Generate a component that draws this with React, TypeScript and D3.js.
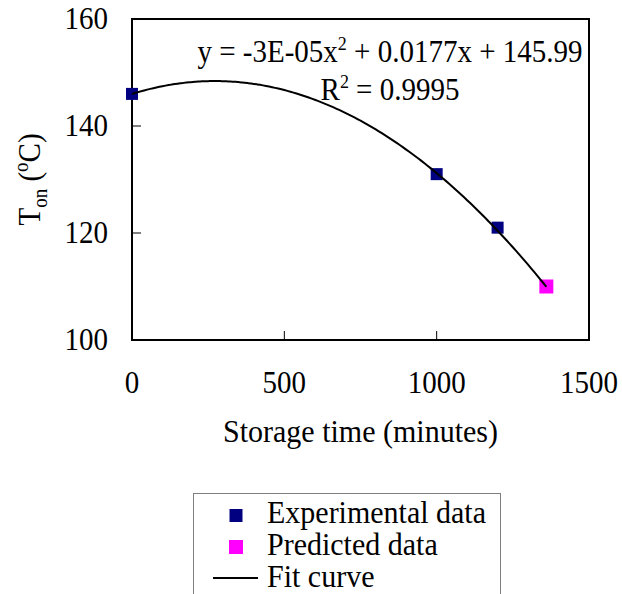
import React from "react";
import * as d3 from "d3";

const experimentalX = [0, 1000, 1200];
const experimentalY = [146, 131, 121];
const predictedX = [1360];
const predictedY = [110];
const xTicks = [0, 500, 1000, 1500];
const yTicks = [100, 120, 140, 160];
const FIT_A = -3.25e-5;
const FIT_B = 0.0177;
const FIT_C = 145.99;
const legendLabels = ["Experimental data", "Predicted data", "Fit curve"];

const W = 622;
const H = 594;
const FONT = '"Liberation Serif"';
const SY = 1.06;

function T(props: { x: number; y: number; rotate?: number; anchor?: string; size: number; children: React.ReactNode }) {
  const { x, y, rotate, anchor, size, children } = props;
  return (
    <g transform={`translate(${x},${y})${rotate ? ` rotate(${rotate})` : ""} scale(1,${SY})`}>
      <text x={0} y={0} textAnchor={anchor || "start"} fontSize={size} style={{ fontFamily: FONT }} fill="#000">
        {children}
      </text>
    </g>
  );
}

export default function App() {
  const left = 132, right = 589, top = 19, bottom = 340;
  const x = d3.scaleLinear().domain([0, 1500]).range([left, right]);
  const y = d3.scaleLinear().domain([100, 160]).range([bottom, top]);

  const curveXs = d3.range(0, predictedX[0] + 0.1, 10);
  const line = d3
    .line<number>()
    .x((d) => x(d))
    .y((d) => y(FIT_A * d * d + FIT_B * d + FIT_C))
    .curve(d3.curveMonotoneX);

  const ms = 12;
  const mp = 14;

  return (
    <svg width={W} height={H} style={{ position: "absolute", left: 0, top: 0, background: "#fff" }}>
      <rect x={0} y={0} width={W} height={H} fill="#fff" />
      {yTicks.slice(1, -1).map((t) => (
        <line key={"yt" + t} x1={left} x2={left + 9} y1={y(t)} y2={y(t)} stroke="#000" strokeWidth={1} />
      ))}
      {xTicks.slice(1, -1).map((t) => (
        <line key={"xt" + t} x1={x(t)} x2={x(t)} y1={bottom} y2={bottom - 9} stroke="#000" strokeWidth={1} />
      ))}
      <rect x={left} y={top} width={right - left} height={bottom - top} fill="none" stroke="#000" strokeWidth={2} />
      {experimentalX.map((v, i) => (
        <rect key={"e" + i} x={x(v) - ms / 2} y={y(experimentalY[i]) - ms / 2} width={ms} height={ms} fill="#000080" />
      ))}
      {predictedX.map((v, i) => (
        <rect key={"p" + i} x={x(v) - mp / 2} y={y(predictedY[i]) - mp / 2} width={mp} height={mp} fill="#FF00FF" />
      ))}
      <path d={line(curveXs) || ""} fill="none" stroke="#000" strokeWidth={2} />
      {yTicks.map((t) => (
        <T key={"yl" + t} x={108} y={y(t) + 10} anchor="end" size={29}>
          {t}
        </T>
      ))}
      {xTicks.map((t) => (
        <T key={"xl" + t} x={x(t)} y={393} anchor="middle" size={29}>
          {t}
        </T>
      ))}
      <T x={(left + right) / 2} y={442} anchor="middle" size={30}>
        Storage time (minutes)
      </T>
      <T x={40} y={(top + bottom) / 2} rotate={-90} anchor="middle" size={29}>
        T<tspan fontSize={19} dy={7}>on</tspan>
        <tspan dy={-7}> (</tspan>
        <tspan fontSize={19} dy={-11}>o</tspan>
        <tspan dy={11}>C)</tspan>
      </T>
      <T x={390} y={62} anchor="middle" size={29}>
        y = -3E-05x<tspan fontSize={18} dy={-11}>2</tspan>
        <tspan dy={11}> + 0.0177x + 145.99</tspan>
      </T>
      <T x={390} y={100} anchor="middle" size={29}>
        R<tspan fontSize={18} dy={-11}>2</tspan>
        <tspan dy={11}> = 0.9995</tspan>
      </T>
      <rect x={193.5} y={493.5} width={307} height={120} fill="#fff" stroke="#7f7f7f" strokeWidth={1} />
      {legendLabels.map((lab, i) => {
        const by = 523 + i * 32;
        return (
          <g key={lab}>
            {i === 0 && <rect x={236 - 6.5} y={by - 14} width={13} height={13} fill="#000080" />}
            {i === 1 && <rect x={236 - 7} y={by - 15} width={14} height={14} fill="#FF00FF" />}
            {i === 2 && <line x1={213} x2={258} y1={by - 9} y2={by - 9} stroke="#000" strokeWidth={2} />}
            <T x={267} y={by} size={30}>
              {lab}
            </T>
          </g>
        );
      })}
    </svg>
  );
}
